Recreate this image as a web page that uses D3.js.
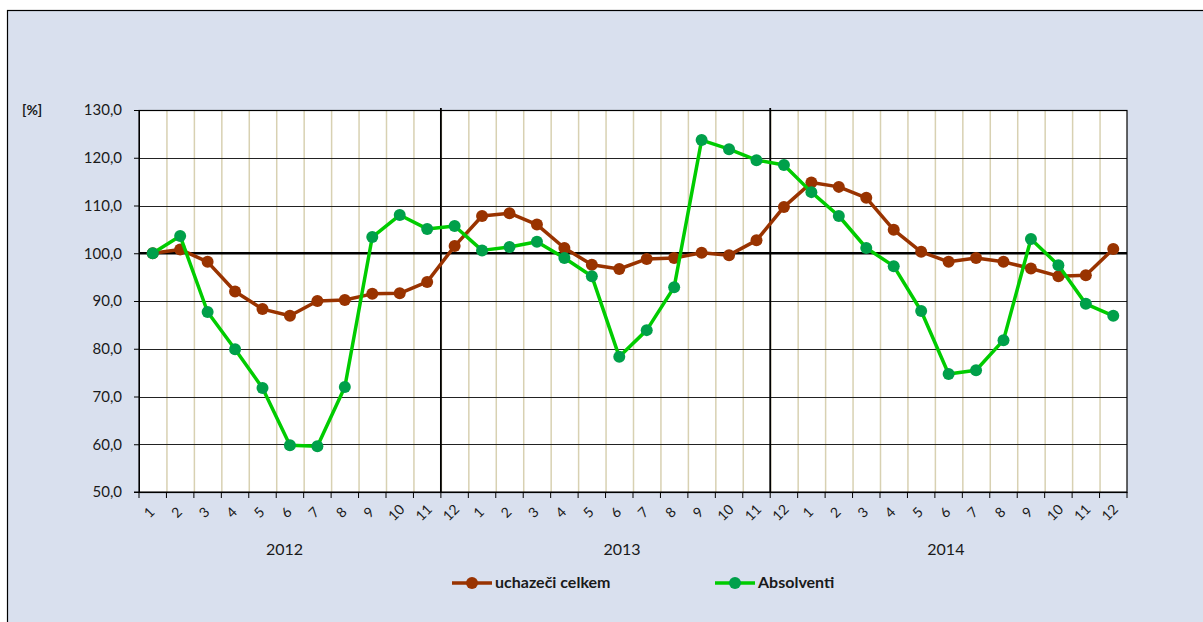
<!DOCTYPE html>
<html lang="cs">
<head>
<meta charset="UTF-8">
<title>uchazeči celkem / Absolventi</title>
<script src="https://d3js.org/d3.v7.min.js"></script>
<style>
  body { margin: 0; background: #ffffff; }
  svg text { font-family: Lato, "Open Sans", sans-serif; fill: #1a1a1a; }
  .ylab { font-size: 15px; }
  .xlab { font-size: 14px; }
  .year { font-size: 16px; }
  .legend { font-size: 16px; font-weight: bold; }
</style>
</head>
<body>
<div id="chart"></div>
<script>
// categories: 36 months, 2012-2014
const years = ["2012", "2013", "2014"];
const months = ["1","2","3","4","5","6","7","8","9","10","11","12"];
const yearLabelPos = [5.3, 17.6, 29.4]; // fractional band index of year labels
const yTicks = [50, 60, 70, 80, 90, 100, 110, 120, 130];

const uchazeci = [
  100.0, 100.8, 98.2, 92.0, 88.3, 86.9, 90.0, 90.2, 91.5, 91.6, 94.0, 101.5,
  107.8, 108.4, 106.0, 101.1, 97.6, 96.7, 98.8, 99.0, 100.1, 99.6, 102.7, 109.7,
  114.8, 113.9, 111.6, 104.9, 100.3, 98.2, 99.0, 98.2, 96.8, 95.2, 95.4, 100.9
];
const absolventi = [
  100.0, 103.6, 87.7, 79.9, 71.8, 59.8, 59.6, 72.0, 103.4, 108.0, 105.1, 105.7,
  100.6, 101.3, 102.4, 99.0, 95.2, 78.3, 83.9, 92.9, 123.7, 121.8, 119.5, 118.5,
  112.8, 107.8, 101.1, 97.3, 87.9, 74.7, 75.5, 81.8, 103.0, 97.5, 89.4, 86.9
];

const series = [
  { name: "uchazeči celkem", values: uchazeci, line: "#993300", dot: "#993300" },
  { name: "Absolventi", values: absolventi, line: "#00cc00", dot: "#00a04a" }
];

const W = 1203, H = 622;
const plot = { left: 139, right: 1127, top: 110, bottom: 492 };

const cats = [];
years.forEach(y => months.forEach(m => cats.push(y + "-" + m)));

const svg = d3.select("#chart").append("svg")
  .attr("width", W).attr("height", H);

// outer chart area
svg.append("rect")
  .attr("x", 7.5).attr("y", 10.5)
  .attr("width", W + 10).attr("height", H + 10)
  .attr("fill", "#d9e0ee").attr("stroke", "#000").attr("stroke-width", 1.2);

const x = d3.scaleBand().domain(cats).range([plot.left, plot.right]);
const y = d3.scaleLinear().domain([50, 130]).range([plot.bottom, plot.top]);

// plot area
svg.append("rect")
  .attr("x", plot.left).attr("y", plot.top)
  .attr("width", plot.right - plot.left).attr("height", plot.bottom - plot.top)
  .attr("fill", "#fff");

// vertical gridlines at band boundaries
svg.append("g").selectAll("line")
  .data(cats.slice(1))
  .join("line")
  .attr("x1", d => x(d) + 0.5).attr("x2", d => x(d) + 0.5)
  .attr("y1", plot.top).attr("y2", plot.bottom)
  .attr("stroke", "#d8d1b2").attr("stroke-width", 1.5);

// horizontal gridlines
svg.append("g").selectAll("line")
  .data(yTicks.filter(v => v !== 50 && v !== 100))
  .join("line")
  .attr("x1", plot.left).attr("x2", plot.right)
  .attr("y1", d => Math.round(y(d)) + 0.5).attr("y2", d => Math.round(y(d)) + 0.5)
  .attr("stroke", "#222").attr("stroke-width", 1);

// year separators (between month 11 and 12)
svg.append("g").selectAll("line")
  .data(["2012-12", "2013-12"])
  .join("line")
  .attr("x1", d => x(d)).attr("x2", d => x(d))
  .attr("y1", plot.top - 2).attr("y2", plot.bottom)
  .attr("stroke", "#000").attr("stroke-width", 1.8);

// 100 % reference line
svg.append("line")
  .attr("x1", plot.left).attr("x2", plot.right)
  .attr("y1", y(100)).attr("y2", y(100))
  .attr("stroke", "#000").attr("stroke-width", 2.5);

// plot border
svg.append("rect")
  .attr("x", plot.left).attr("y", plot.top + 0.5)
  .attr("width", plot.right - plot.left).attr("height", plot.bottom - plot.top)
  .attr("fill", "none").attr("stroke", "#000").attr("stroke-width", 1.2);

// y axis
const yAxis = svg.append("g")
  .attr("transform", `translate(${plot.left},0)`)
  .call(d3.axisLeft(y).tickValues(yTicks).tickSize(5).tickPadding(12)
    .tickFormat(d => d3.format(".1f")(d).replace(".", ",")));
yAxis.select(".domain").attr("stroke", "#000");
yAxis.selectAll(".tick line").attr("stroke", "#000");
yAxis.selectAll("text").attr("class", "ylab").attr("fill", "#1a1a1a");

svg.append("text")
  .attr("x", 22).attr("y", y(130) + 5)
  .style("font-size", "14px").style("font-weight", "bold")
  .text("[%]");

// x axis: ticks at band boundaries
const xAxisG = svg.append("g").attr("transform", `translate(0,${plot.bottom})`);
xAxisG.append("line")
  .attr("x1", plot.left - 5).attr("x2", plot.right)
  .attr("stroke", "#000").attr("stroke-width", 1.2);
xAxisG.selectAll(".tk")
  .data(cats.concat(["end"]))
  .join("line")
  .attr("class", "tk")
  .attr("x1", (d, i) => plot.left + i * x.step())
  .attr("x2", (d, i) => plot.left + i * x.step())
  .attr("y1", 0).attr("y2", 6)
  .attr("stroke", "#000");
xAxisG.selectAll(".xlab")
  .data(cats)
  .join("text")
  .attr("class", "xlab")
  .attr("text-anchor", "middle")
  .attr("transform", d => `translate(${x(d) + x.bandwidth() / 2},${24}) rotate(-45)`)
  .text(d => d.split("-")[1]);

svg.selectAll(".year")
  .data(years)
  .join("text")
  .attr("class", "year")
  .attr("text-anchor", "middle")
  .attr("x", (d, i) => plot.left + yearLabelPos[i] * x.step())
  .attr("y", 555)
  .text(d => d);

// lines and markers
const line = d3.line()
  .x((d, i) => x(cats[i]) + x.bandwidth() / 2)
  .y(d => y(d));

series.forEach(s => {
  svg.append("path")
    .datum(s.values)
    .attr("d", line)
    .attr("fill", "none")
    .attr("stroke", s.line)
    .attr("stroke-width", 3.5)
    .attr("stroke-linejoin", "round");
  svg.append("g").selectAll("circle")
    .data(s.values)
    .join("circle")
    .attr("cx", (d, i) => x(cats[i]) + x.bandwidth() / 2)
    .attr("cy", d => y(d))
    .attr("r", 6)
    .attr("fill", s.dot);
});

// legend
const legendX = [452, 715];
series.forEach((s, i) => {
  const g = svg.append("g").attr("transform", `translate(${legendX[i]},583)`);
  g.append("line").attr("x1", 0).attr("x2", 40)
    .attr("stroke", s.line).attr("stroke-width", 3.5);
  g.append("circle").attr("cx", 20).attr("cy", 0).attr("r", 6).attr("fill", s.dot);
  g.append("text").attr("class", "legend").attr("x", 43).attr("y", 5).text(s.name);
});
</script>
</body>
</html>
